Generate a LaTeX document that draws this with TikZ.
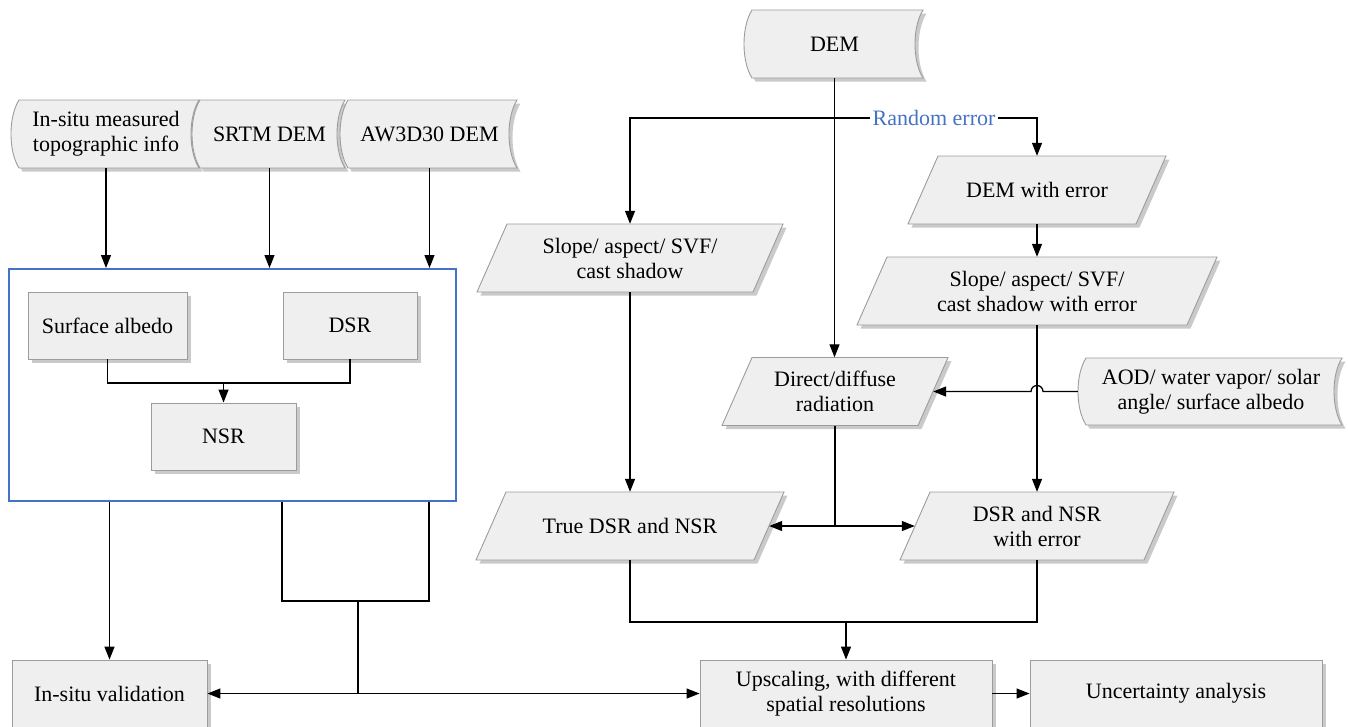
\documentclass[tikz,border=0pt]{standalone}
\usepackage{fontspec}
\setmainfont{Liberation Serif}
\usetikzlibrary{arrows.meta,shadows,calc}
\definecolor{boxfill}{HTML}{EFEFEF}
\definecolor{boxline}{HTML}{9C9C9C}
\definecolor{accent}{HTML}{4472C4}
\tikzset{
  shp/.style={fill=boxfill, draw=boxline, line width=0.9pt,
    drop shadow={shadow xshift=3.5pt, shadow yshift=-3.5pt, opacity=0.35, fill=black!60}},
  lbl/.style={align=center, font=\fontsize{22}{25}\selectfont, inner sep=0pt},
  rbox/.style={shp, lbl, rectangle},
  arr/.style={line width=1.3pt, -{Triangle[length=13pt,width=10pt]}},
  dbl/.style={line width=1.3pt, {Triangle[length=13pt,width=10pt]}-{Triangle[length=13pt,width=10pt]}},
  ln/.style={line width=1.3pt},
}
% parallelogram: name, cx, cy, full width, text
\newcommand\mypara[5]{%
  \path[shp] ({#2-#4/2},{#3+34}) -- ({#2+#4/2-30},{#3+34}) -- ({#2+#4/2},{#3-34}) -- ({#2-#4/2+30},{#3-34}) -- cycle;
  \node[lbl, minimum width={#4pt-30pt}, minimum height=68pt] (#1) at (#2,#3) {#5};
}
% stored data: name, x0, x1, y0, y1, text
\newcommand\mydata[6]{%
  \path[shp] (#2,#4) -- (#3,#4) .. controls ({#3-10.7},{#4+(#5-#4)/4}) and ({#3-10.7},{#5-(#5-#4)/4}) .. (#3,#5)
    -- (#2,#5) .. controls ({#2-10.7},{#5-(#5-#4)/4}) and ({#2-10.7},{#4+(#5-#4)/4}) .. (#2,#4) -- cycle;
  \node[lbl, minimum width={#3pt-#2pt+10pt}, minimum height={#5pt-#4pt}] (#1) at ({(#2+#3)/2-3},{(#4+#5)/2}) {#6};
}
\begin{document}
\begin{tikzpicture}[x=1pt,y=-1pt]
\useasboundingbox (0,0) rectangle (1348,726);
% ---- left part
\mydata{t1}{19}{199}{100}{168}{In-situ measured\\topographic info}
\mydata{t2}{200}{345}{100}{168}{SRTM DEM}
\mydata{t3}{348}{517}{100}{168}{AW3D30 DEM}
\node[draw=accent, line width=2pt, minimum width=447pt, minimum height=232pt, inner sep=0pt] (blue) at (232.5,385) {};
\node[rbox, minimum width=159pt, minimum height=67pt] (alb) at (107.5,325.5) {Surface albedo};
\node[rbox, minimum width=134pt, minimum height=67pt] (dsr) at (350,325.5) {DSR};
\node[rbox, minimum width=145pt, minimum height=67pt] (nsr) at (223.5,436.5) {NSR};
\draw[arr] (t1.south) -- (t1.south |- blue.north);
\draw[arr] (t2.south) -- (t2.south |- blue.north);
\draw[arr] (t3.south) -- (t3.south |- blue.north);
\coordinate (j1) at (223.5,383);
\draw[ln] (alb.south) |- (j1) -| (dsr.south);
\draw[arr] (j1) -- (nsr.north);
% ---- bottom
\node[rbox, minimum width=195pt, minimum height=67pt] (insitu) at (109.5,693.5) {In-situ validation};
\node[rbox, minimum width=292pt, minimum height=67pt] (ups) at (846,693.5) {Upscaling, with different\\spatial resolutions};
\node[rbox, minimum width=292pt, minimum height=67pt] (unc) at (1176,693.5) {Uncertainty analysis};
\draw[arr] (insitu.north |- blue.south) -- (insitu.north);
\coordinate (b1) at (282,601);
\coordinate (b2) at (429,601);
\coordinate (bm) at (358,601);
\draw[ln] (blue.south -| b1) -- (b1) -- (b2) -- (blue.south -| b2);
\draw[ln] (bm) -- (bm |- insitu.east);
\draw[dbl] (insitu.east) -- (ups.west);
\draw[arr] (ups.east) -- (unc.west);
% ---- right part
\mydata{dem}{752}{923}{10}{78}{DEM}
\mypara{slope}{630}{258}{306}{Slope/ aspect/ SVF/\\cast shadow}
\mypara{demerr}{1037}{190}{258}{DEM with error}
\mypara{slopeerr}{1037}{291}{360}{Slope/ aspect/ SVF/\\cast shadow with error}
\mypara{direct}{835}{391.5}{226}{Direct/diffuse\\radiation}
\mydata{aod}{1086}{1342}{358}{425}{AOD/ water vapor/ solar\\angle/ surface albedo}
\mypara{true}{630}{526}{308}{True DSR and NSR}
\mypara{dsrerr}{1037}{526}{274}{DSR and NSR\\with error}
\node[lbl, text=accent, inner sep=2pt] (re) at (934,118) {Random error};
\draw[arr] (dem.south) -- (dem.south |- direct.north);
\draw[arr] (re.west) -| (slope.north);
\draw[arr] (re.east) -| (demerr.north);
\draw[arr] (demerr.south) -- (slopeerr.north);
\draw[arr] (slopeerr.south) -- (dsrerr.north);
\coordinate (jmp) at (1043,391.5);
\draw[arr] (aod.west) -- (jmp) arc[start angle=0, end angle=180, radius=6pt] -- (direct.east);
\draw[arr] (slope.south) -- (true.north);
\draw[dbl] (true.east) -- (dsrerr.west);
\draw[ln] (direct.south) -- (direct.south |- true.east);
\coordinate (m1) at (846,622);
\draw[ln] (true.south) |- (m1) -| (dsrerr.south);
\draw[arr] (m1) -- (ups.north);
\end{tikzpicture}
\end{document}
